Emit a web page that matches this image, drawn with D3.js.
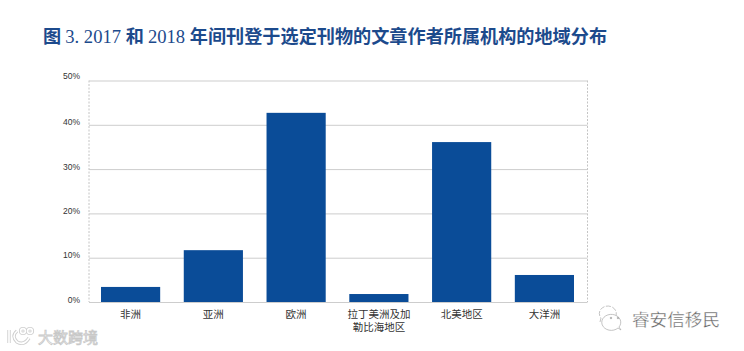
<!DOCTYPE html>
<html>
<head>
<meta charset="utf-8">
<title>图 3</title>
<script src="https://d3js.org/d3.v7.min.js"></script>
<style>
  html, body { margin: 0; padding: 0; background: #fff; }
  svg { display: block; }
  .cn { font-family: "Noto Sans CJK SC", sans-serif; }
</style>
</head>
<body>
<svg class="chart" width="744" height="351"></svg>
<script>
const categories = [["非洲"], ["亚洲"], ["欧洲"], ["拉丁美洲及加", "勒比海地区"], ["北美地区"], ["大洋洲"]];
const shares = [3.4, 11.7, 42.7, 1.8, 36.1, 6.1];
const yTicks = [0, 10, 20, 30, 40, 50];
const titleParts = [
    ["图 ", true], ["3. 2017 ", false], ["和 ", true], ["2018 ", false],
    ["年间刊登于选定刊物的文章作者所属机构的地域分布", true]
];

const svg = d3.select("svg.chart");
const plotLeft = 89, plotRight = 587.5, plotTop = 80.5, plotBottom = 302;
const blue = "#0a4c98";

// title, bold CJK with the numbers in a light serif
const heading = svg.append("text").attr("x", 43).attr("y", 43).attr("fill", "#1c4a8c")
    .attr("style", "white-space:pre");
titleParts.forEach(function (p) {
    heading.append("tspan")
        .text(p[0])
        .attr("font-family", p[1] ? '"Noto Sans CJK SC"' : '"Liberation Serif"')
        .attr("font-weight", p[1] ? 700 : 400)
        .attr("font-size", p[1] ? 18.15 : 18.6);
});

// bars don't quite reach the right edge evenly, so the band range stops short of it
const x = d3.scaleBand().domain(d3.range(categories.length)).range([plotLeft, plotRight - 1.5])
    .paddingInner(0.285).paddingOuter(0.145);
const y = d3.scaleLinear().domain([0, 50]).range([plotBottom, plotTop]);

// dashed side borders
svg.selectAll("line.side").data([plotLeft, plotRight]).enter().append("line")
    .attr("class", "side")
    .attr("x1", d => d).attr("x2", d => d)
    .attr("y1", plotTop).attr("y2", plotBottom)
    .attr("stroke", "#c4c4c4").attr("stroke-dasharray", "2,1.5");

// y axis with gridlines
const yAxis = svg.append("g")
    .attr("transform", "translate(" + plotLeft + ",0)")
    .call(d3.axisLeft(y).tickValues(yTicks).tickSize(-(plotRight - plotLeft)).tickPadding(9).tickFormat(d => d + "%"));
yAxis.select(".domain").remove();
yAxis.selectAll("line").attr("stroke", "#cdcdcd");
// labels sit a little above their gridlines, the top one more so
yAxis.selectAll("text")
    .attr("font-family", '"Liberation Sans"').attr("font-size", 8.5).attr("fill", "#333")
    .attr("y", d => d === 50 ? -4.8 : -2.6);

// bars
svg.selectAll("rect.bar").data(shares).enter().append("rect")
    .attr("class", "bar")
    .attr("x", (d, i) => x(i))
    .attr("width", x.bandwidth())
    .attr("y", d => y(d))
    .attr("height", d => y(0) - y(d))
    .attr("fill", blue);

// category labels
const xAxis = svg.append("g")
    .attr("transform", "translate(0," + plotBottom + ")")
    .call(d3.axisBottom(x).tickSize(0).tickFormat(""));
xAxis.select(".domain").remove();
xAxis.selectAll(".tick text").remove();
xAxis.selectAll(".tick").each(function (i) {
    const t = d3.select(this).append("text")
        .attr("class", "cn").attr("text-anchor", "middle")
        .attr("font-size", 10.5).attr("fill", "#333");
    categories[i].forEach(function (line, k) {
        t.append("tspan").attr("x", 0).attr("y", 15.5 + k * 13).text(line);
    });
});

// watermarks
svg.append("text").attr("class", "cn").attr("x", 38).attr("y", 343)
    .attr("font-size", 15).attr("fill", "#fff").attr("stroke", "#c8c8c8").attr("stroke-width", 0.8)
    .text("大数跨境");
[["#cfcfcf", 3.4], ["#fff", 1.6]].forEach(function (s) {
    const logo = svg.append("g").attr("fill", "none").attr("stroke", s[0]).attr("stroke-width", s[1]);
    logo.append("path").attr("d", "M9 330 V343 M17 331 Q11 336 17 342 Q24 346 29 338");
    logo.append("circle").attr("cx", 23).attr("cy", 331).attr("r", 2.4);
    logo.append("circle").attr("cx", 30).attr("cy", 331).attr("r", 2.4);
});

const wx = svg.append("g").attr("fill", "#fff").attr("stroke", "#aaa").attr("stroke-width", 0.7);
wx.append("path").attr("d", "M600 322 L601 318 A8.5 7.5 0 1 1 607 321").attr("stroke-dasharray", "5,1.5");
wx.append("path").attr("d", "M619 327 L621 330 L618 328 A9.5 8 0 1 1 619 327");
wx.append("circle").attr("cx", 611).attr("cy", 318).attr("r", 0.8).attr("fill", "#999");
wx.append("circle").attr("cx", 618).attr("cy", 318).attr("r", 0.8).attr("fill", "#999");
svg.append("text").attr("class", "cn").attr("x", 632).attr("y", 325.5)
    .attr("font-size", 17.6).attr("fill", "#666").attr("stroke", "#fff").attr("stroke-width", 0.3)
    .text("睿安信移民");
</script>
</body>
</html>
